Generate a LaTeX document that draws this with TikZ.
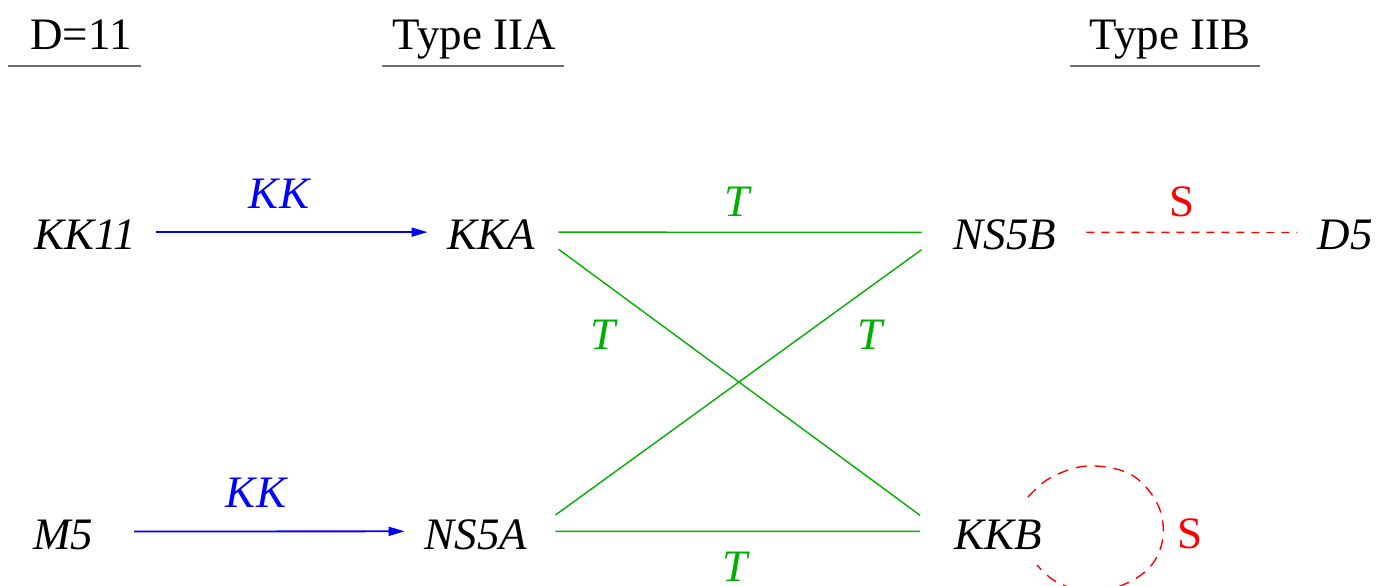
\documentclass[tikz,border=0pt]{standalone}
\usepackage{fontspec}
\setmainfont{Liberation Serif}
\newfontfamily\timesfam{Liberation Serif}
\usetikzlibrary{arrows.meta}
\definecolor{tgreen}{RGB}{0,176,0}
\definecolor{kblue}{RGB}{0,0,255}
\definecolor{sred}{RGB}{255,0,0}
\definecolor{rulegray}{RGB}{110,110,110}
\begin{document}
\begin{tikzpicture}[x=1pt,y=-1pt,
  every node/.style={font=\timesfam\fontsize{45}{54}\selectfont},
  head/.style={anchor=base,inner sep=0pt,font=\timesfam\fontsize{45}{54}\selectfont},
  lbl/.style={anchor=base,inner xsep=20pt,inner ysep=0pt,font=\timesfam\fontsize{45}{54}\selectfont\itshape},
  tag/.style={anchor=base,inner sep=0pt,font=\timesfam\fontsize{45}{54}\selectfont\itshape},
  kkarrow/.style={draw=kblue,line width=1.8pt,-{Triangle[length=16pt,width=9pt]}},
  tline/.style={draw=tgreen,line width=1.4pt},
  sline/.style={draw=sred,line width=1.4pt,dash pattern=on 8pt off 7pt},
  underline/.style={draw=rulegray,line width=1.3pt}]
\useasboundingbox (0,0) rectangle (1376,586);
% headers
\node[head] (h11) at (81,50) {D=11};
\node[head] (hA) at (474.5,50) {Type IIA};
\node[head] (hB) at (1170,50) {Type IIB};
\coordinate (u1a) at (8,66); \coordinate (u1b) at (141,66);
\coordinate (u2a) at (382,66); \coordinate (u2b) at (564,66);
\coordinate (u3a) at (1070,66); \coordinate (u3b) at (1260,66);
\draw[underline] (u1a) -- (u1b);
\draw[underline] (u2a) -- (u2b);
\draw[underline] (u3a) -- (u3b);
% objects
\node[lbl] (KK11) at (85,249) {KK11};
\node[lbl] (KKA) at (491.5,249) {KKA};
\node[lbl] (NS5B) at (1005,249) {NS5B};
\node[lbl] (D5) at (1345,249) {D5};
\node[lbl] (M5) at (63,549) {M5};
\node[lbl] (NS5A) at (476,549) {NS5A};
\node[lbl] (KKB) at (998,549) {KKB};
% connectors
\draw[kkarrow] ([yshift=2pt]KK11.east) -- ([yshift=2pt]KKA.west);
\draw[kkarrow,shorten <=21pt] ([yshift=3pt]M5.east) -- ([yshift=3pt]NS5A.west);
\draw[tline,shorten <=3pt,shorten >=12pt] ([yshift=2pt]KKA.east) -- ([yshift=2pt]NS5B.west);
\draw[tline,shorten <=8pt,shorten >=14pt] ([yshift=3pt]NS5A.east) -- ([yshift=3pt]KKB.west);
\draw[tline] ([xshift=3pt]KKA.south east) -- ([xshift=-14pt,yshift=4pt]KKB.north west);
\draw[tline] ([xshift=8pt,yshift=4pt]NS5A.north east) -- ([xshift=-12pt]NS5B.south west);
\draw[sline,shorten <=10pt] ([yshift=2pt]NS5B.east) -- ([yshift=2pt]D5.west);
\draw[draw=sred,line width=1.4pt,dash pattern=on 11pt off 8pt]
  plot[smooth,tension=0.6] coordinates {(1028,497) (1050,478) (1087,466) (1130,474) (1157,503) (1163,537) (1150,567) (1120,586) (1085,591) (1055,581) (1037,565)};
% labels
\node[tag,text=kblue] (lkk1) at (279,208) {KK};
\node[tag,text=kblue] (lkk2) at (256,507) {KK};
\node[tag,text=tgreen] (lt1) at (737,216) {T};
\node[tag,text=tgreen] (lt2) at (603,349) {T};
\node[tag,text=tgreen] (lt3) at (870,349) {T};
\node[tag,text=tgreen] (lt4) at (735,581) {T};
\node[head,text=sred] (ls1) at (1182,216) {S};
\node[head,text=sred] (ls2) at (1190,548) {S};
\end{tikzpicture}
\end{document}
